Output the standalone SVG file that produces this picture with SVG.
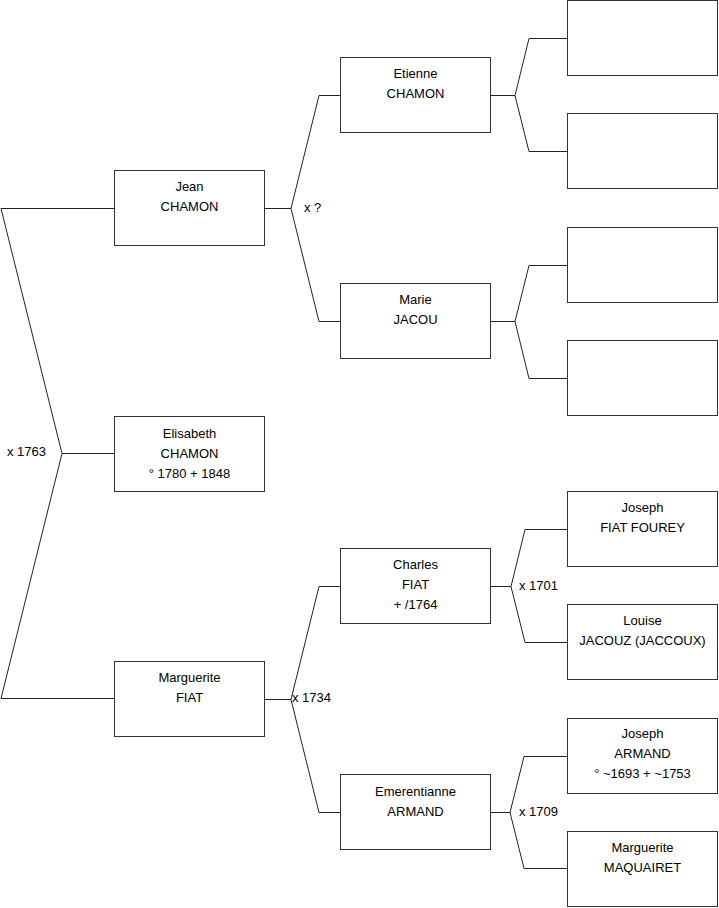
<svg xmlns="http://www.w3.org/2000/svg" width="719" height="908" viewBox="0 0 719 908">
<style>
.box{fill:#fff;stroke:#333;stroke-width:1}
.t{font-family:"Liberation Sans",Arial,sans-serif;font-size:13px;fill:#000;text-anchor:middle}
.l{font-family:"Liberation Sans",Arial,sans-serif;font-size:13px;fill:#000}
.c{fill:none;stroke:#222;stroke-width:1}
</style>
<rect width="719" height="908" fill="#fff"/>
<g id="connectors">
<polyline class="c" points="114,208.5 1,208.5 62,453.5 1,698.5 114,698.5"/>
<line class="c" x1="62" y1="453.5" x2="114" y2="453.5"/>
<polyline class="c" points="340,95.5 319,95.5 291,208.5 319,321.5 340,321.5"/>
<line class="c" x1="265" y1="208.5" x2="291" y2="208.5"/>
<polyline class="c" points="340,586.5 319,586.5 291,699.5 319,812.5 340,812.5"/>
<line class="c" x1="265" y1="699.5" x2="291" y2="699.5"/>
<polyline class="c" points="567,38.5 529,38.5 515,95.5 529,151.5 567,151.5"/>
<line class="c" x1="491" y1="95.5" x2="515" y2="95.5"/>
<polyline class="c" points="567,265.5 529,265.5 515,321.5 529,378.5 567,378.5"/>
<line class="c" x1="491" y1="321.5" x2="515" y2="321.5"/>
<polyline class="c" points="567,529.5 525,529.5 511,586.5 525,642.5 567,642.5"/>
<line class="c" x1="491" y1="586.5" x2="511" y2="586.5"/>
<polyline class="c" points="567,756.5 524,756.5 510,812.5 524,868.5 567,868.5"/>
<line class="c" x1="491" y1="812.5" x2="510" y2="812.5"/>
<text class="l" x="7" y="456">x 1763</text>
<text class="l" x="304" y="212">x ?</text>
<text class="l" x="292" y="702">x 1734</text>
<text class="l" x="519" y="590">x 1701</text>
<text class="l" x="519" y="816">x 1709</text>
</g>
<g id="jean"><rect class="box" x="114.5" y="170.5" width="150" height="75"/><text class="t" x="189.5" y="191">Jean</text><text class="t" x="189.5" y="211">CHAMON</text></g>
<g id="elisabeth"><rect class="box" x="114.5" y="416.5" width="150" height="75"/><text class="t" x="189.5" y="438">Elisabeth</text><text class="t" x="189.5" y="458">CHAMON</text><text class="t" x="189.5" y="478">° 1780 + 1848</text></g>
<g id="marguerite-fiat"><rect class="box" x="114.5" y="661.5" width="150" height="75"/><text class="t" x="189.5" y="682">Marguerite</text><text class="t" x="189.5" y="702">FIAT</text></g>
<g id="etienne"><rect class="box" x="340.5" y="57.5" width="150" height="75"/><text class="t" x="415.5" y="78">Etienne</text><text class="t" x="415.5" y="98">CHAMON</text></g>
<g id="marie"><rect class="box" x="340.5" y="283.5" width="150" height="75"/><text class="t" x="415.5" y="304">Marie</text><text class="t" x="415.5" y="324">JACOU</text></g>
<g id="charles"><rect class="box" x="340.5" y="548.5" width="150" height="75"/><text class="t" x="415.5" y="569">Charles</text><text class="t" x="415.5" y="589">FIAT</text><text class="t" x="415.5" y="609">+ /1764</text></g>
<g id="emerentianne"><rect class="box" x="340.5" y="774.5" width="150" height="75"/><text class="t" x="415.5" y="796">Emerentianne</text><text class="t" x="415.5" y="816">ARMAND</text></g>
<g id="empty1"><rect class="box" x="567.5" y="0.5" width="150" height="75"/></g>
<g id="empty2"><rect class="box" x="567.5" y="113.5" width="150" height="75"/></g>
<g id="empty3"><rect class="box" x="567.5" y="227.5" width="150" height="75"/></g>
<g id="empty4"><rect class="box" x="567.5" y="340.5" width="150" height="75"/></g>
<g id="joseph-fiat"><rect class="box" x="567.5" y="491.5" width="150" height="75"/><text class="t" x="642.5" y="512">Joseph</text><text class="t" x="642.5" y="532">FIAT FOUREY</text></g>
<g id="louise"><rect class="box" x="567.5" y="604.5" width="150" height="75"/><text class="t" x="642.5" y="625">Louise</text><text class="t" x="642.5" y="645">JACOUZ (JACCOUX)</text></g>
<g id="joseph-armand"><rect class="box" x="567.5" y="718.5" width="150" height="75"/><text class="t" x="642.5" y="738">Joseph</text><text class="t" x="642.5" y="758">ARMAND</text><text class="t" x="642.5" y="778">° ~1693 + ~1753</text></g>
<g id="marguerite-maquairet"><rect class="box" x="567.5" y="831.5" width="150" height="75"/><text class="t" x="642.5" y="852">Marguerite</text><text class="t" x="642.5" y="872">MAQUAIRET</text></g>
</svg>
